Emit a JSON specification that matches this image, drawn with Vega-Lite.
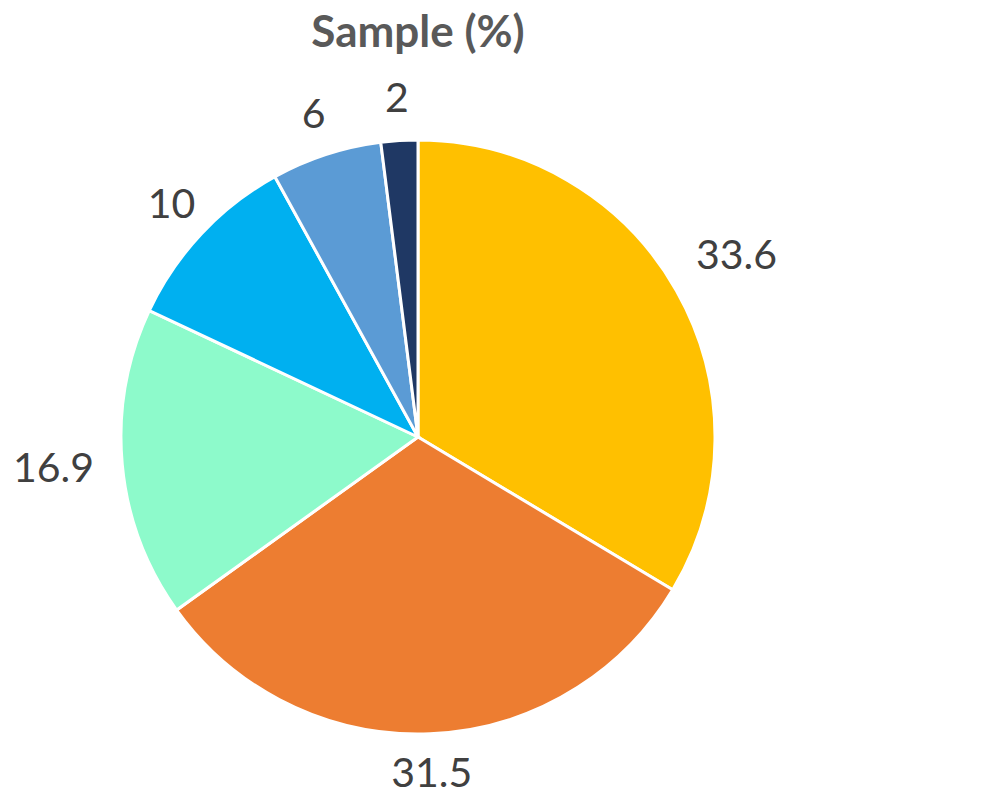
{
  "$schema": "https://vega.github.io/schema/vega-lite/v6.json",
  "width": 836,
  "height": 714,
  "autosize": {"type": "none"},
  "padding": {"left": 0, "top": 80, "right": 0, "bottom": 0},
  "background": "white",
  "title": {
    "text": "Sample (%)",
    "font": "Lato",
    "fontSize": 44,
    "fontWeight": "bold",
    "color": "#595959",
    "anchor": "middle",
    "offset": -5
  },
  "data": {
    "values": [
      {"id": 1, "label": "33.6", "value": 33.6},
      {"id": 2, "label": "31.5", "value": 31.5},
      {"id": 3, "label": "16.9", "value": 16.9},
      {"id": 4, "label": "10", "value": 10},
      {"id": 5, "label": "6", "value": 6},
      {"id": 6, "label": "2", "value": 2}
    ]
  },
  "encoding": {
    "theta": {"field": "value", "type": "quantitative", "stack": true},
    "order": {"field": "id", "type": "quantitative"}
  },
  "layer": [
    {
      "mark": {"type": "arc", "outerRadius": 297, "stroke": "white", "strokeWidth": 3},
      "encoding": {
        "color": {
          "field": "id",
          "type": "nominal",
          "scale": {"domain": [1, 2, 3, 4, 5, 6], "range": ["#FFC000", "#ED7D31", "#8DFACB", "#00B0F0", "#5B9BD5", "#1F3864"]},
          "legend": null
        }
      }
    },
    {
      "mark": {"type": "text", "radius": 366, "fontSize": 41, "font": "Lato", "color": "#404040", "align": "center", "baseline": "middle"},
      "encoding": {
        "text": {"field": "label", "type": "nominal"},
        "opacity": {"condition": {"test": "datum.id == 1 || datum.id == 3", "value": 1}, "value": 0}
      }
    },
    {
      "mark": {"type": "text", "radius": 338, "fontSize": 41, "font": "Lato", "color": "#404040", "align": "center", "baseline": "middle"},
      "encoding": {
        "text": {"field": "label", "type": "nominal"},
        "opacity": {"condition": {"test": "datum.id == 1 || datum.id == 3", "value": 0}, "value": 1}
      }
    }
  ],
  "config": {"view": {"stroke": null}}
}
